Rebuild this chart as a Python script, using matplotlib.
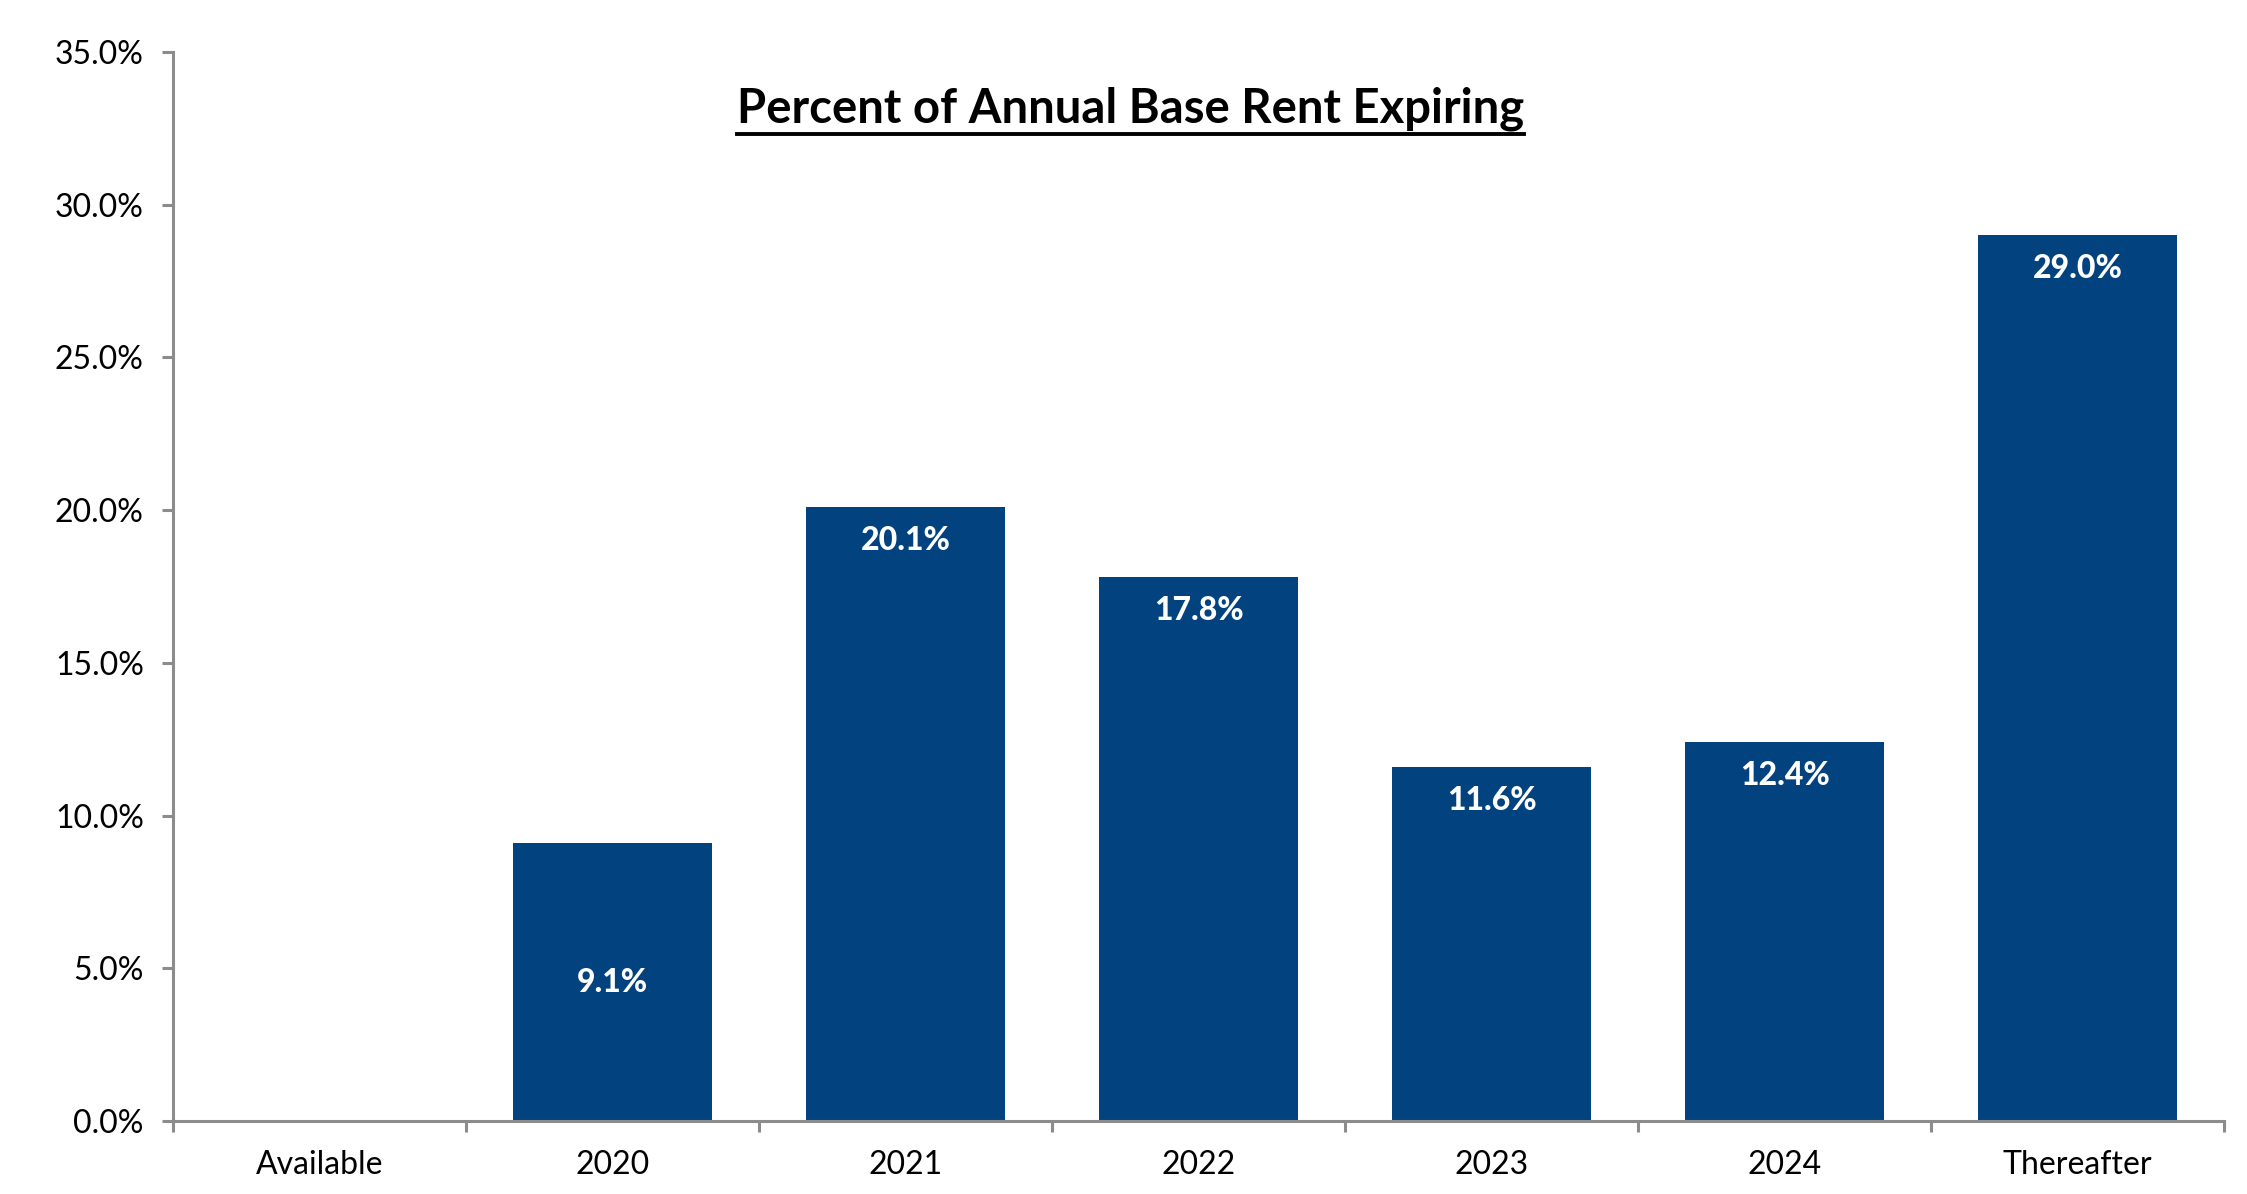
import matplotlib
matplotlib.use('Agg')
import matplotlib.pyplot as plt
from matplotlib.lines import Line2D
import numpy as np

categories = ['Available', '2020', '2021', '2022', '2023', '2024', 'Thereafter']
values = [0.0, 9.1, 20.1, 17.8, 11.6, 12.4, 29.0]
yticks = [0, 5, 10, 15, 20, 25, 30, 35]

plt.rcParams['font.family'] = ['Lato', 'DejaVu Sans']
barcolor = '#01427F'
axcolor = '#8C8C8C'

fig = plt.figure(figsize=(22.47, 11.94), dpi=100)
ax = fig.add_axes([0.077, 0.0611, 0.9128, 0.8953])

x = np.arange(len(categories))
ax.bar(x, values, width=0.68, color=barcolor, zorder=2)

for xi, v in zip(x, values):
    if v <= 0:
        continue
    if v < 10:
        ax.text(xi, v / 2, '%.1f%%' % v, ha='center', va='center',
                color='white', fontsize=23, fontweight='black')
    else:
        ax.annotate('%.1f%%' % v, (xi, v), xytext=(0, -24), textcoords='offset points',
                    ha='center', va='center', color='white', fontsize=23, fontweight='black')

ax.set_xlim(-0.5, len(categories) - 0.5)
ax.set_ylim(0, 35)
ax.set_yticks(yticks)
ax.set_yticklabels(['%.1f%%' % t for t in yticks])
ax.set_xticks(x)
ax.set_xticklabels(categories)
ax.set_xticks(np.arange(len(categories) + 1) - 0.5, minor=True)

for s in ['top', 'right']:
    ax.spines[s].set_visible(False)
for s in ['left', 'bottom']:
    ax.spines[s].set_color(axcolor)
    ax.spines[s].set_linewidth(2.2)

ax.tick_params(axis='y', length=8, width=2.2, color=axcolor, pad=13, labelsize=23)
ax.tick_params(axis='x', which='major', length=0, pad=21, labelsize=23)
ax.tick_params(axis='x', which='minor', length=8, width=2.2, color=axcolor)

ty = 0.897
title = fig.text(0.503, ty, 'Percent of Annual Base Rent Expiring', ha='center',
                 va='baseline', fontsize=34, fontweight='bold')

# underline the title
fig.canvas.draw()
bb = title.get_window_extent(renderer=fig.canvas.get_renderer())
bb = bb.transformed(fig.transFigure.inverted())
uy = ty - 0.009
fig.add_artist(Line2D([bb.x0, bb.x1], [uy, uy], transform=fig.transFigure,
                      color='black', linewidth=2.8))

fig.savefig('out.png', dpi=100)
